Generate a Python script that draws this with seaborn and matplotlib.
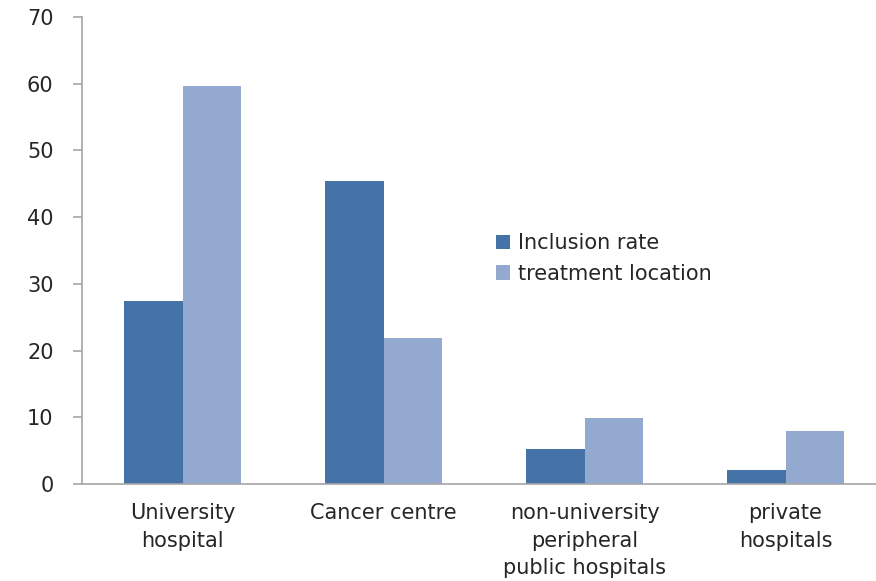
import matplotlib
matplotlib.use("Agg")
import matplotlib.pyplot as plt
import seaborn as sns
import pandas as pd

# Hospital categories and the two series (percent)
categories = ["University\nhospital", "Cancer centre",
              "non-university\nperipheral\npublic hospitals", "private\nhospitals"]
series_names = ["Inclusion rate", "treatment location"]
inclusion_rate = [27.5, 45.4, 5.2, 2.1]
treatment_location = [59.7, 21.9, 9.9, 8.0]
y_ticks = [0, 10, 20, 30, 40, 50, 60, 70]

colors = ["#4572A7", "#93A9CF"]
axis_gray = "#A6A6A6"
text_color = "#262626"
font_size = 15

df = pd.DataFrame({
    "category": categories * 2,
    "series": [series_names[0]] * len(categories) + [series_names[1]] * len(categories),
    "value": inclusion_rate + treatment_location,
})

sns.set_theme(style="white")
plt.rcParams["font.family"] = ["DejaVu Sans"]

fig = plt.figure(figsize=(8.76, 5.81), dpi=100)
ax = fig.add_axes([82 / 876, 97 / 581, 804 / 876, 467 / 581])

sns.barplot(data=df, x="category", y="value", hue="series", order=categories,
            hue_order=series_names, palette=colors, width=0.58, gap=0,
            saturation=1, linewidth=0, ax=ax)

ax.set_xlim(-0.5, len(categories) - 0.5)
ax.set_ylim(0, 70)
ax.set_yticks(y_ticks)
ax.set_xlabel("")
ax.set_ylabel("")

for side in ("top", "right"):
    ax.spines[side].set_visible(False)
for side in ("left", "bottom"):
    ax.spines[side].set_color(axis_gray)
    ax.spines[side].set_linewidth(1.2)

# category labels centred, tick marks at the category boundaries
ax.set_xticks(range(len(categories)))
ax.set_xticklabels(categories, fontsize=font_size, color=text_color, linespacing=1.45)
ax.set_xticks([i - 0.5 for i in range(len(categories) + 1)], minor=True)
ax.tick_params(axis="x", which="major", length=0, pad=14)
ax.tick_params(axis="x", which="minor", length=5, width=1.2, color=axis_gray, direction="out")
ax.tick_params(axis="y", length=6.5, width=1.2, color=axis_gray, direction="out",
               labelsize=font_size, labelcolor=text_color, pad=14, left=True)

leg = ax.legend(loc="upper left", bbox_to_anchor=(496 / 876, 1 - 233 / 581),
                bbox_transform=fig.transFigure, frameon=False, fontsize=font_size,
                handlelength=0.67, handleheight=0.67, handletextpad=0.4,
                labelspacing=0.52, borderpad=0, borderaxespad=0)
for t in leg.get_texts():
    t.set_color(text_color)

fig.savefig("out.png", dpi=100, facecolor="white")
